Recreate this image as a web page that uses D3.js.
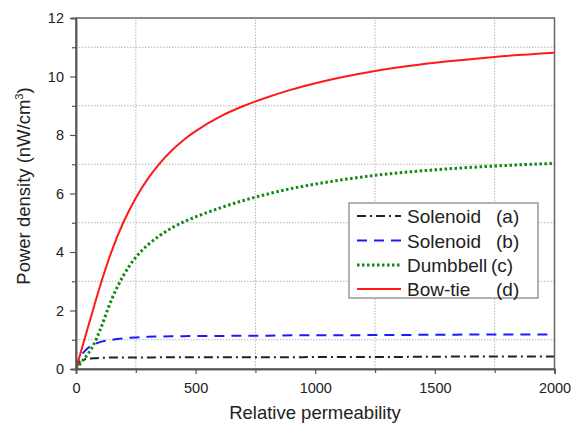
<!DOCTYPE html>
<html><head><meta charset="utf-8">
<script src="https://cdn.jsdelivr.net/npm/d3@7/dist/d3.min.js"></script>
<style>
body{margin:0;background:#fff}
svg{display:block}
text{font-family:Arial,"Liberation Sans",sans-serif;fill:#222}
</style>
</head><body>
<svg id="chart" width="573" height="424"></svg>
<script>
// ---- data ----
const permeability = [0, 10, 25, 50, 75, 100, 150, 200, 250, 300, 350, 400, 450, 500, 600, 700, 800, 900, 1000, 1250, 1500, 1750, 2000];
const solenoidA   = [0, 0.18, 0.30, 0.35, 0.37, 0.38, 0.39, 0.39, 0.39, 0.39, 0.40, 0.40, 0.40, 0.40, 0.40, 0.40, 0.40, 0.40, 0.41, 0.41, 0.42, 0.43, 0.43];
const solenoidB   = [0, 0.30, 0.50, 0.72, 0.84, 0.92, 1.00, 1.05, 1.08, 1.10, 1.11, 1.12, 1.12, 1.13, 1.13, 1.14, 1.14, 1.15, 1.15, 1.16, 1.17, 1.18, 1.18];
const dumbbell    = [0, 0.10, 0.26, 0.52, 0.85, 1.32, 2.40, 3.22, 3.82, 4.24, 4.56, 4.82, 5.03, 5.20, 5.50, 5.76, 5.98, 6.17, 6.32, 6.62, 6.81, 6.94, 7.03];
const bowtie      = [0, 0.29, 0.72, 1.43, 2.13, 2.82, 4.05, 5.05, 5.85, 6.50, 7.03, 7.47, 7.83, 8.13, 8.62, 8.99, 9.29, 9.55, 9.77, 10.19, 10.47, 10.67, 10.81];
const xMajorTicks = [0, 500, 1000, 1500, 2000];
const xMinorTicks = [250, 750, 1250, 1750];
const yMajorTicks = [0, 2, 4, 6, 8, 10, 12];
const yMinorTicks = [1, 3, 5, 7, 9, 11];
const seriesNames = ["Solenoid", "Solenoid", "Dumbbell", "Bow-tie"];
const seriesTags  = ["(a)", "(b)", "(c)", "(d)"];

const svg = d3.select("#chart");
const x = d3.scaleLinear().domain([0, 2000]).range([76, 554.5]);
const y = d3.scaleLinear().domain([0, 12]).range([369, 18]);

// grid (minor positions, dotted)
const grid = svg.append("g").attr("stroke", "#b5b5b5").attr("stroke-width", 1).attr("stroke-dasharray", "1.5,1.5");
grid.selectAll("line.gx").data(xMinorTicks).join("line")
  .attr("x1", d => x(d)).attr("x2", d => x(d)).attr("y1", y(0)).attr("y2", y(12));
grid.selectAll("line.gy").data(yMinorTicks).join("line")
  .attr("x1", x(0)).attr("x2", x(2000)).attr("y1", d => y(d)).attr("y2", d => y(d));

// series
const series = [
  {vals: solenoidA, color: "#222222", dash: "9,4,2,4", width: 2},
  {vals: solenoidB, color: "#1a1aff", dash: "10,7", width: 2},
  {vals: dumbbell,  color: "#108a10", dash: "2.5,2.5", width: 3},
  {vals: bowtie,    color: "#ff1a1a", dash: null, width: 2}
];
svg.append("clipPath").attr("id", "clip").append("rect")
  .attr("x", x(0)).attr("y", y(12)).attr("width", x(2000) - x(0)).attr("height", y(0) - y(12));
const line = d3.line().x((d, i) => x(permeability[i])).y(d => y(d)).curve(d3.curveMonotoneX);
const lg = svg.append("g").attr("clip-path", "url(#clip)");
series.forEach(s => {
  lg.append("path").attr("d", line(s.vals)).attr("fill", "none")
    .attr("stroke", s.color).attr("stroke-width", s.width)
    .attr("stroke-dasharray", s.dash);
});

// frame
svg.append("rect").attr("x", x(0)).attr("y", y(12)).attr("width", x(2000) - x(0)).attr("height", y(0) - y(12))
  .attr("fill", "none").attr("stroke", "#666").attr("stroke-width", 1.5);

// axes
const fontTick = "14.5px";
const gx = svg.append("g").attr("transform", `translate(0,${y(0)})`)
  .call(d3.axisBottom(x).tickValues(xMajorTicks).tickSize(5).tickPadding(9).tickFormat(d3.format("d")));
const gxm = svg.append("g").attr("transform", `translate(0,${y(0)})`)
  .call(d3.axisBottom(x).tickValues(xMinorTicks).tickSize(4).tickFormat(""));
const gy = svg.append("g").attr("transform", `translate(${x(0)},0)`)
  .call(d3.axisLeft(y).tickValues(yMajorTicks).tickSize(6).tickPadding(6).tickFormat(d3.format("d")));
const gym = svg.append("g").attr("transform", `translate(${x(0)},0)`)
  .call(d3.axisLeft(y).tickValues(yMinorTicks).tickSize(4).tickFormat(""));
[gx, gxm, gy, gym].forEach(g => {
  g.select(".domain").attr("stroke", "#555").attr("stroke-width", 1.5);
  g.selectAll(".tick line").attr("stroke", "#555").attr("stroke-width", 1.2);
  g.selectAll(".tick text").attr("fill", "#222").style("font-size", fontTick)
    .style("font-family", "Arial, 'Liberation Sans', sans-serif");
});

// axis titles
svg.append("text").attr("x", 315).attr("y", 419).attr("text-anchor", "middle")
  .style("font-size", "18.5px").text("Relative permeability");
const yt = svg.append("text").attr("transform", "translate(30,186) rotate(-90)")
  .attr("text-anchor", "middle").style("font-size", "18.5px");
yt.append("tspan").text("Power density (nW/cm");
yt.append("tspan").attr("dy", -7).style("font-size", "11px").text("3");
yt.append("tspan").attr("dy", 7).text(")");

// legend
const leg = svg.append("g");
leg.append("rect").attr("x", 349).attr("y", 203).attr("width", 189).attr("height", 95)
  .attr("fill", "#fff").attr("stroke", "#999").attr("stroke-width", 1.5);
const rowY = [216, 240.5, 265, 289];
const tagX = [496, 496, 491, 496];
series.forEach((s, i) => {
  leg.append("line").attr("x1", 357).attr("x2", 401).attr("y1", rowY[i]).attr("y2", rowY[i])
    .attr("stroke", s.color).attr("stroke-width", s.width).attr("stroke-dasharray", s.dash);
  leg.append("text").attr("x", 407).attr("y", rowY[i] + 7).style("font-size", "19px").text(seriesNames[i]);
  leg.append("text").attr("x", tagX[i]).attr("y", rowY[i] + 7).style("font-size", "19px").text(seriesTags[i]);
});
</script>
</body></html>
